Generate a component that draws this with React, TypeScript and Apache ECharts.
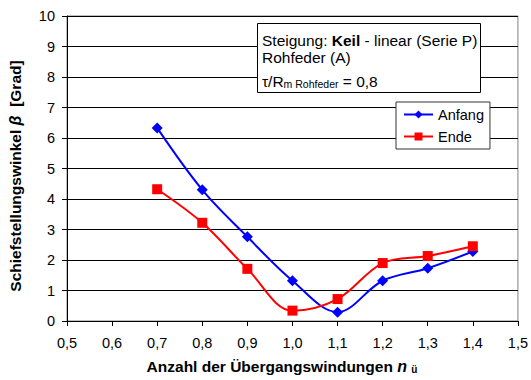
import React, { useEffect, useRef } from "react";
import * as echarts from "echarts";

const xValues = [0.7, 0.8, 0.9, 1.0, 1.1, 1.2, 1.3, 1.4];
const anfang = [6.33, 4.3, 2.76, 1.32, 0.29, 1.32, 1.73, 2.28];
const ende = [4.32, 3.22, 1.71, 0.34, 0.72, 1.9, 2.13, 2.45];
const seriesNames = ["Anfang", "Ende"];

const FONT = "'Liberation Sans', Arial, sans-serif";

export default function App() {
  const ref = useRef<HTMLDivElement>(null);
  useEffect(() => {
    if (!ref.current) return;
    const chart = echarts.init(ref.current, null, { renderer: "svg" });
    const toPairs = (ys: number[]) => xValues.map((x, i) => [x, ys[i]]);
    chart.setOption({
      animation: false,
      backgroundColor: "#ffffff",
      textStyle: { fontFamily: FONT },
      grid: {
        left: 67,
        right: 12,
        top: 16,
        bottom: 59,
        show: true,
        borderColor: "#808080",
        borderWidth: 1,
        backgroundColor: "transparent",
      },
      legend: {
        orient: "vertical",
        left: 396,
        top: 102,
        data: seriesNames,
        backgroundColor: "#ffffff",
        borderColor: "#333333",
        borderWidth: 1,
        borderRadius: 0,
        padding: [5, 6, 5, 7],
        itemWidth: 29,
        itemHeight: 10,
        itemGap: 7,
        textStyle: { fontFamily: FONT, fontSize: 14.5, color: "#000" },
      },
      xAxis: {
        type: "value",
        min: 0.5,
        max: 1.5,
        interval: 0.1,
        axisLine: { lineStyle: { color: "#000", width: 1 } },
        axisTick: { show: true, length: 5, lineStyle: { color: "#000" } },
        splitLine: { show: false },
        axisLabel: {
          margin: 14,
          fontSize: 14.5,
          color: "#000",
          fontFamily: FONT,
          formatter: (v: number) => v.toFixed(1).replace(".", ","),
        },
      },
      yAxis: {
        type: "value",
        min: 0,
        max: 10,
        interval: 1,
        axisLine: { show: true, lineStyle: { color: "#000", width: 1 } },
        axisTick: { show: true, length: 5, lineStyle: { color: "#000" } },
        splitLine: { show: true, lineStyle: { color: "#000", width: 1 } },
        axisLabel: {
          margin: 12,
          fontSize: 14.5,
          color: "#000",
          fontFamily: FONT,
        },
      },
      series: [
        {
          name: seriesNames[0],
          type: "line",
          data: toPairs(anfang),
          smooth: 0.35,
          symbol: "diamond",
          symbolSize: 11,
          itemStyle: { color: "#0000ff" },
          lineStyle: { color: "#0000ff", width: 2 },
          z: 3,
        },
        {
          name: seriesNames[1],
          type: "line",
          data: toPairs(ende),
          smooth: 0.35,
          symbol: "rect",
          symbolSize: 10,
          itemStyle: { color: "#ff0000" },
          lineStyle: { color: "#ff0000", width: 2 },
          z: 4,
        },
      ],
      graphic: [
        {
          type: "rect",
          shape: { x: 257.5, y: 23.5, width: 223, height: 69 },
          style: { fill: "#ffffff", stroke: "#000", lineWidth: 1 },
          z: 10,
        },
        {
          type: "text",
          x: 262,
          y: 40,
          z: 11,
          style: {
            text: "Steigung: {b|Keil} - linear (Serie P)",
            fontFamily: FONT,
            fontSize: 15.5,
            fill: "#000",
            verticalAlign: "middle",
            rich: {
              b: { fontFamily: FONT, fontSize: 15.5, fontWeight: "bold", fill: "#000" },
            },
          },
        },
        {
          type: "text",
          x: 262,
          y: 57,
          z: 11,
          style: {
            text: "Rohfeder (A)",
            fontFamily: FONT,
            fontSize: 15.5,
            fill: "#000",
            verticalAlign: "middle",
          },
        },
        {
          type: "text",
          x: 262,
          y: 81,
          z: 11,
          style: {
            text: "τ/R{s|m Rohfeder} = 0,8",
            fontFamily: FONT,
            fontSize: 15.5,
            lineHeight: 17,
            fill: "#000",
            verticalAlign: "middle",
            rich: {
              s: {
                fontFamily: FONT,
                fontSize: 10.5,
                lineHeight: 11,
                verticalAlign: "bottom",
                fill: "#000",
              },
            },
          },
        },
        {
          type: "text",
          x: 282,
          y: 366,
          z: 11,
          style: {
            text: "Anzahl der Übergangswindungen {n|n} {s|ü}",
            fontFamily: FONT,
            fontSize: 15.5,
            fontWeight: "bold",
            lineHeight: 17,
            fill: "#000",
            align: "center",
            verticalAlign: "middle",
            rich: {
              n: {
                fontFamily: FONT,
                fontSize: 16,
                fontWeight: "bold",
                fontStyle: "italic",
                fill: "#000",
              },
              s: {
                fontFamily: FONT,
                fontSize: 10,
                lineHeight: 10,
                fontWeight: "bold",
                verticalAlign: "bottom",
                fill: "#000",
              },
            },
          },
        },
        {
          type: "text",
          x: 15,
          y: 176,
          rotation: Math.PI / 2,
          z: 11,
          style: {
            text: "Schiefstellungswinkel {g|β}  [Grad]",
            fontFamily: FONT,
            fontSize: 15.5,
            fontWeight: "bold",
            fill: "#000",
            align: "center",
            verticalAlign: "middle",
            rich: {
              g: {
                fontFamily: FONT,
                fontSize: 16,
                fontWeight: "bold",
                fontStyle: "italic",
                fill: "#000",
              },
            },
          },
        },
      ],
    });
    return () => chart.dispose();
  }, []);
  return (
    <div
      ref={ref}
      style={{ position: "fixed", left: 0, top: 0, width: 531, height: 380, background: "#fff" }}
    />
  );
}
